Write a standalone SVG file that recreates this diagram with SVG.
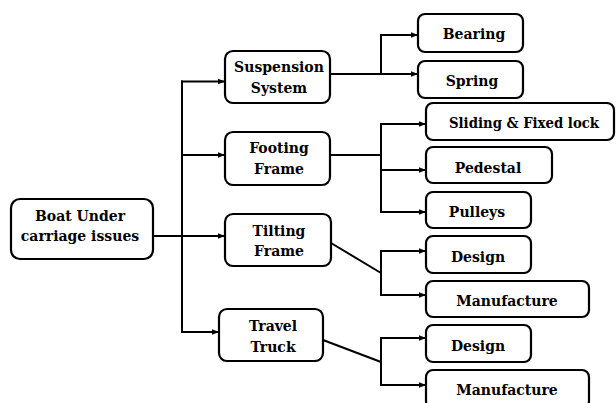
<svg xmlns="http://www.w3.org/2000/svg" width="616" height="403" viewBox="0 0 616 403">
<defs>
<style>
.box{fill:#fff;stroke:#000;stroke-width:2.2}
.t{font-family:'DejaVu Serif',serif;font-weight:bold;font-size:14px;fill:#000;text-anchor:middle}
.c{fill:none;stroke:#000;stroke-width:2}
</style>
<marker id="ah" viewBox="0 0 10 10" refX="10" refY="5" markerWidth="7" markerHeight="7" markerUnits="userSpaceOnUse" orient="auto">
<path d="M0,1 L10,5 L0,9 z" fill="#000"/>
</marker>
</defs>
<rect width="616" height="403" fill="#fff"/>
<g id="connectors">
<line class="c" x1="153" y1="236" x2="182" y2="236"/>
<line class="c" x1="182" y1="80.5" x2="182" y2="333"/>
<line class="c" x1="181" y1="81.5" x2="225" y2="81.5" marker-end="url(#ah)"/>
<line class="c" x1="181" y1="155" x2="225" y2="155" marker-end="url(#ah)"/>
<line class="c" x1="181" y1="236" x2="225" y2="236" marker-end="url(#ah)"/>
<line class="c" x1="181" y1="332" x2="219" y2="332" marker-end="url(#ah)"/>
<line class="c" x1="330" y1="74" x2="418" y2="74" marker-end="url(#ah)"/>
<polyline class="c" points="381,74 381,35 418,35" marker-end="url(#ah)"/>
<line class="c" x1="330" y1="155" x2="381" y2="155"/>
<line class="c" x1="381" y1="123" x2="381" y2="213"/>
<line class="c" x1="380" y1="124" x2="426" y2="124" marker-end="url(#ah)"/>
<line class="c" x1="380" y1="170" x2="426" y2="170" marker-end="url(#ah)"/>
<line class="c" x1="380" y1="212" x2="426" y2="212" marker-end="url(#ah)"/>
<line class="c" x1="331" y1="243" x2="381" y2="273"/>
<line class="c" x1="381" y1="250" x2="381" y2="296"/>
<line class="c" x1="380" y1="251" x2="426" y2="251" marker-end="url(#ah)"/>
<line class="c" x1="380" y1="295" x2="426" y2="295" marker-end="url(#ah)"/>
<line class="c" x1="323" y1="340" x2="381" y2="362"/>
<line class="c" x1="381" y1="337" x2="381" y2="386"/>
<line class="c" x1="380" y1="338" x2="426" y2="338" marker-end="url(#ah)"/>
<line class="c" x1="380" y1="385" x2="426" y2="385" marker-end="url(#ah)"/>
</g>
<g id="root">
<rect class="box" x="11" y="199" width="142" height="60" rx="9"/>
<text class="t" x="80" y="221">Boat Under</text>
<text class="t" x="80" y="241">carriage issues</text>
</g>
<g id="suspension">
<rect class="box" x="225" y="51" width="105" height="52" rx="8"/>
<text class="t" x="279" y="72">Suspension</text>
<text class="t" x="279" y="93">System</text>
</g>
<g id="footing">
<rect class="box" x="225" y="132" width="105" height="53" rx="8"/>
<text class="t" x="279" y="153">Footing</text>
<text class="t" x="279" y="174">Frame</text>
</g>
<g id="tilting">
<rect class="box" x="225" y="214" width="106" height="52" rx="8"/>
<text class="t" x="279" y="236">Tilting</text>
<text class="t" x="279" y="256">Frame</text>
</g>
<g id="travel">
<rect class="box" x="219" y="309" width="104" height="52" rx="8"/>
<text class="t" x="273" y="331">Travel</text>
<text class="t" x="273" y="352">Truck</text>
</g>
<g id="bearing">
<rect class="box" x="418" y="14" width="105" height="38" rx="7"/>
<text class="t" x="474" y="39">Bearing</text>
</g>
<g id="spring">
<rect class="box" x="418" y="61" width="105" height="37" rx="7"/>
<text class="t" x="472" y="86">Spring</text>
</g>
<g id="sliding">
<rect class="box" x="426" y="103" width="188" height="37" rx="7"/>
<text class="t" x="524" y="128" textLength="150" lengthAdjust="spacingAndGlyphs">Sliding &amp; Fixed lock</text>
</g>
<g id="pedestal">
<rect class="box" x="426" y="147" width="126" height="36" rx="7"/>
<text class="t" x="488" y="173">Pedestal</text>
</g>
<g id="pulleys">
<rect class="box" x="426" y="192" width="105" height="36" rx="7"/>
<text class="t" x="477" y="217">Pulleys</text>
</g>
<g id="design1">
<rect class="box" x="426" y="236" width="105" height="37" rx="7"/>
<text class="t" x="478" y="262">Design</text>
</g>
<g id="manufacture1">
<rect class="box" x="426" y="281" width="163" height="36" rx="7"/>
<text class="t" x="507" y="306">Manufacture</text>
</g>
<g id="design2">
<rect class="box" x="426" y="325" width="105" height="37" rx="7"/>
<text class="t" x="478" y="351">Design</text>
</g>
<g id="manufacture2">
<rect class="box" x="426" y="370" width="163" height="38" rx="7"/>
<text class="t" x="507" y="395">Manufacture</text>
</g>
</svg>
